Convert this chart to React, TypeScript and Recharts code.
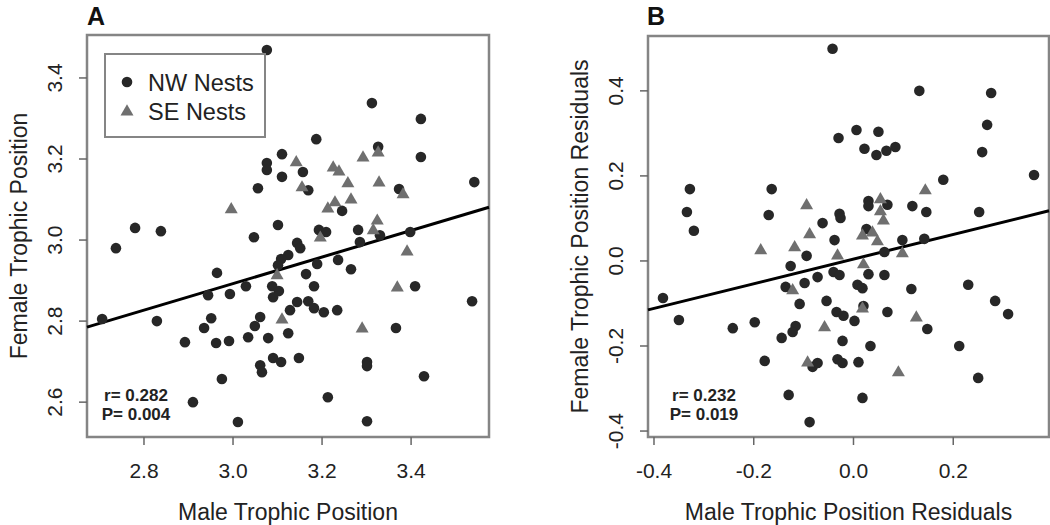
import React from 'react';
import { ScatterChart, Scatter, XAxis, YAxis, ReferenceArea, ReferenceLine, Legend } from 'recharts';

const FONT = '"Liberation Sans", Arial, Helvetica, sans-serif';

// ---------- Panel A data ----------
const nwMaleA = [3.076, 3.312, 3.422, 3.187, 3.110, 3.076, 3.076, 3.422, 3.157, 3.110, 3.326, 3.542, 3.373, 3.056, 3.169, 3.245, 2.780, 2.838, 3.101, 3.047, 3.193, 3.209, 3.281, 3.330, 3.398, 2.737, 3.285, 3.144, 3.151, 3.124, 3.108, 3.101, 3.236, 3.189, 2.964, 3.265, 3.164, 3.029, 3.088, 3.182, 3.409, 2.944, 2.993, 3.103, 3.090, 3.537, 3.128, 3.144, 3.169, 3.182, 3.204, 3.234, 2.706, 2.829, 2.951, 2.935, 3.061, 3.049, 3.124, 3.366, 2.892, 2.962, 2.991, 3.034, 3.079, 3.090, 3.108, 3.148, 3.061, 3.065, 3.301, 3.301, 2.975, 3.429, 2.910, 3.213, 3.011, 3.301];
const nwFemaleA = [3.469, 3.338, 3.299, 3.249, 3.212, 3.190, 3.173, 3.205, 3.168, 3.156, 3.230, 3.143, 3.126, 3.128, 3.123, 3.072, 3.030, 3.022, 3.037, 3.007, 3.025, 3.020, 3.025, 3.012, 3.020, 2.980, 2.995, 2.993, 2.980, 2.963, 2.953, 2.938, 2.951, 2.941, 2.919, 2.928, 2.916, 2.886, 2.886, 2.886, 2.886, 2.864, 2.867, 2.874, 2.859, 2.849, 2.827, 2.847, 2.849, 2.832, 2.822, 2.827, 2.805, 2.800, 2.807, 2.783, 2.810, 2.788, 2.770, 2.783, 2.748, 2.746, 2.751, 2.760, 2.758, 2.709, 2.699, 2.709, 2.691, 2.674, 2.699, 2.689, 2.657, 2.664, 2.600, 2.612, 2.551, 2.553];
const seMaleA = [2.996, 3.142, 3.225, 3.238, 3.292, 3.326, 3.258, 3.328, 3.382, 3.155, 3.229, 3.265, 3.213, 3.324, 3.315, 3.196, 3.391, 3.099, 3.110, 3.290, 3.369];
const seFemaleA = [3.077, 3.193, 3.180, 3.170, 3.205, 3.217, 3.141, 3.143, 3.114, 3.131, 3.094, 3.101, 3.079, 3.049, 3.025, 3.007, 2.973, 2.914, 2.805, 2.783, 2.884];
const xTicksA = [2.8, 3.0, 3.2, 3.4];
const yTicksA = [2.6, 2.8, 3.0, 3.2, 3.4];
const xDomainA = [2.672, 3.575];
const yDomainA = [2.514, 3.506];
const fitA = [2.785, 3.081]; // fitted female value at the x-domain edges

// ---------- Panel B data ----------
const nwMaleB = [-0.042, 0.132, 0.276, 0.268, 0.006, 0.050, -0.030, 0.022, 0.046, 0.066, 0.084, 0.258, 0.362, 0.180, -0.328, -0.164, -0.334, -0.170, -0.320, -0.062, 0.030, 0.030, 0.068, 0.118, 0.146, 0.252, -0.028, -0.026, 0.026, -0.038, 0.098, 0.142, -0.094, 0.062, -0.126, -0.040, -0.028, -0.072, 0.030, 0.062, -0.136, -0.098, 0.008, 0.018, 0.116, 0.230, -0.382, -0.108, -0.054, 0.284, 0.020, -0.034, -0.020, 0.068, 0.002, 0.310, -0.350, -0.198, -0.242, -0.116, -0.122, 0.148, -0.144, -0.022, 0.034, 0.212, -0.178, -0.082, -0.072, -0.032, -0.022, 0.010, 0.250, -0.130, -0.088, 0.018];
const nwFemaleB = [0.499, 0.400, 0.395, 0.320, 0.308, 0.304, 0.289, 0.264, 0.249, 0.259, 0.268, 0.256, 0.202, 0.191, 0.169, 0.169, 0.115, 0.108, 0.071, 0.089, 0.141, 0.129, 0.132, 0.129, 0.115, 0.115, 0.111, 0.101, 0.075, 0.049, 0.049, 0.052, 0.012, 0.021, -0.012, -0.026, -0.033, -0.038, -0.031, -0.033, -0.061, -0.052, -0.056, -0.064, -0.066, -0.056, -0.087, -0.101, -0.094, -0.094, -0.106, -0.120, -0.129, -0.120, -0.141, -0.125, -0.139, -0.144, -0.158, -0.153, -0.167, -0.160, -0.181, -0.188, -0.200, -0.200, -0.235, -0.249, -0.240, -0.231, -0.240, -0.238, -0.275, -0.315, -0.379, -0.322];
const seMaleB = [-0.094, -0.088, 0.144, 0.054, 0.054, 0.060, 0.018, 0.038, 0.048, -0.186, -0.118, -0.032, 0.098, 0.020, -0.122, 0.018, 0.126, -0.058, -0.092, 0.090];
const seFemaleB = [0.132, 0.064, 0.167, 0.146, 0.118, 0.096, 0.061, 0.068, 0.047, 0.026, 0.033, 0.014, 0.019, -0.007, -0.068, -0.111, -0.132, -0.155, -0.238, -0.261];
const xTicksB = [-0.4, -0.2, 0.0, 0.2];
const yTicksB = [-0.4, -0.2, 0.0, 0.2, 0.4];
const xDomainB = [-0.412, 0.392];
const yDomainB = [-0.414, 0.529];
const fitB = [-0.115, 0.118];

const zip = (xs: number[], ys: number[]) => xs.map((x, i) => ({ x, y: ys[i] }));

const DOT_COLOR = '#272727';
const TRI_COLOR = '#6f6f6f';
const BOX_COLOR = '#858585';
const TEXT_COLOR = '#222';

const Dot = (p: any) => <circle cx={p.cx} cy={p.cy} r={5.3} fill={DOT_COLOR} />;
const Tri = (p: any) => {
  const { cx, cy } = p;
  const s = 6.5;
  return <path d={`M${cx},${cy - 6.8} L${cx + s},${cy + 4.4} L${cx - s},${cy + 4.4} Z`} fill={TRI_COLOR} />;
};

const XTick = (p: any) => (
  <text x={p.x} y={p.y + 31} textAnchor="middle" fontSize={21} fill={TEXT_COLOR} fontFamily={FONT}>
    {Number(p.payload.value).toFixed(1)}
  </text>
);
const YTick = (p: any) => {
  const bx = p.x - 15;
  return (
    <text x={bx} y={p.y} transform={`rotate(-90, ${bx}, ${p.y})`} textAnchor="middle" fontSize={21} fill={TEXT_COLOR} fontFamily={FONT}>
      {Number(p.payload.value).toFixed(1)}
    </text>
  );
};

const LegendBox = () => (
  <svg width={162} height={85} style={{ display: 'block' }}>
    <rect x={1} y={1} width={160} height={83} fill="#fff" stroke={BOX_COLOR} strokeWidth={2} />
    <circle cx={23} cy={29} r={5.3} fill={DOT_COLOR} />
    <path d={`M23,${58 - 6.8} L${23 + 6.5},${58 + 4.4} L${23 - 6.5},${58 + 4.4} Z`} fill={TRI_COLOR} />
    <text x={44} y={38} fontSize={23.5} fill={TEXT_COLOR} fontFamily={FONT}>NW Nests</text>
    <text x={44} y={67} fontSize={23.5} fill={TEXT_COLOR} fontFamily={FONT}>SE Nests</text>
  </svg>
);

type PanelProps = {
  left: number;
  yAxisWidth: number;
  marginTop: number;
  marginRight: number;
  nw: { x: number; y: number }[];
  se: { x: number; y: number }[];
  xDomain: number[];
  yDomain: number[];
  xTicks: number[];
  yTicks: number[];
  fit: number[];
  xTitle: string;
  yTitle: string;
  legend?: boolean;
};

const Panel = (props: PanelProps) => {
  const { xDomain, yDomain } = props;
  return (
    <div style={{ position: 'absolute', left: props.left, top: 0 }}>
      <ScatterChart
        width={520}
        height={525}
        margin={{ top: props.marginTop, right: props.marginRight, bottom: 0, left: 0 }}
      >
        <XAxis
          type="number"
          dataKey="x"
          domain={xDomain}
          ticks={props.xTicks}
          interval={0}
          allowDataOverflow
          height={88}
          axisLine={false}
          tickSize={8}
          tickMargin={2}
          tickLine={{ stroke: '#666', strokeWidth: 1.5 }}
          tick={<XTick />}
          label={{
            content: (lp: any) => {
              const vb = lp.viewBox;
              return (
                <text x={vb.x + vb.width / 2} y={520} textAnchor="middle" fontSize={23} fill={TEXT_COLOR} fontFamily={FONT}>
                  {props.xTitle}
                </text>
              );
            },
          }}
        />
        <YAxis
          type="number"
          dataKey="y"
          domain={yDomain}
          ticks={props.yTicks}
          interval={0}
          allowDataOverflow
          width={props.yAxisWidth}
          axisLine={false}
          tickSize={8}
          tickMargin={2}
          tickLine={{ stroke: '#666', strokeWidth: 1.5 }}
          tick={<YTick />}
          label={{
            content: (lp: any) => {
              const vb = lp.viewBox;
              const bx = vb.x + vb.width - 60;
              const cy = vb.y + vb.height / 2;
              return (
                <text x={bx} y={cy} transform={`rotate(-90, ${bx}, ${cy})`} textAnchor="middle" fontSize={23} fill={TEXT_COLOR} fontFamily={FONT}>
                  {props.yTitle}
                </text>
              );
            },
          }}
        />
        <ReferenceArea
          x1={xDomain[0]}
          x2={xDomain[1]}
          y1={yDomain[0]}
          y2={yDomain[1]}
          fill="none"
          fillOpacity={0}
          stroke={BOX_COLOR}
          strokeWidth={2.5}
          ifOverflow="visible"
        />
        <Scatter name="NW Nests" data={props.nw} shape={Dot} isAnimationActive={false} />
        <Scatter name="SE Nests" data={props.se} shape={Tri} isAnimationActive={false} />
        <ReferenceLine
          segment={[
            { x: xDomain[0], y: props.fit[0] },
            { x: xDomain[1], y: props.fit[1] },
          ]}
          stroke="#000"
          strokeWidth={3}
          ifOverflow="visible"
        />
        {props.legend ? (
          <Legend
            layout="horizontal"
            verticalAlign="middle"
            align="center"
            content={() => <LegendBox />}
            wrapperStyle={{ left: 104, top: 53, width: 162, height: 85 }}
          />
        ) : null}
      </ScatterChart>
    </div>
  );
};

export default function App() {
  return (
    <div style={{ position: 'fixed', left: 0, top: 0, width: 1050, height: 525, background: '#fff', overflow: 'hidden' }}>
      <Panel
        left={0}
        yAxisWidth={87}
        marginTop={35}
        marginRight={31}
        nw={zip(nwMaleA, nwFemaleA)}
        se={zip(seMaleA, seFemaleA)}
        xDomain={xDomainA}
        yDomain={yDomainA}
        xTicks={xTicksA}
        yTicks={yTicksA}
        fit={fitA}
        xTitle="Male Trophic Position"
        yTitle="Female Trophic Position"
        legend
      />
      <Panel
        left={530}
        yAxisWidth={118}
        marginTop={36}
        marginRight={1}
        nw={zip(nwMaleB, nwFemaleB)}
        se={zip(seMaleB, seFemaleB)}
        xDomain={xDomainB}
        yDomain={yDomainB}
        xTicks={xTicksB}
        yTicks={yTicksB}
        fit={fitB}
        xTitle="Male Trophic Position Residuals"
        yTitle="Female Trophic Position Residuals"
      />
      <svg width={1050} height={525} style={{ position: 'absolute', left: 0, top: 0, pointerEvents: 'none' }}>
        <text x={87} y={25} fontSize={25} fontWeight="bold" fill="#111" fontFamily={FONT}>A</text>
        <text x={647} y={25} fontSize={25} fontWeight="bold" fill="#111" fontFamily={FONT}>B</text>
        <text x={136} y={401} textAnchor="middle" fontSize={17} fontWeight="bold" fill={TEXT_COLOR} fontFamily={FONT}>r= 0.282</text>
        <text x={136} y={420} textAnchor="middle" fontSize={17} fontWeight="bold" fill={TEXT_COLOR} fontFamily={FONT}>P= 0.004</text>
        <text x={704} y={401} textAnchor="middle" fontSize={17} fontWeight="bold" fill={TEXT_COLOR} fontFamily={FONT}>r= 0.232</text>
        <text x={704} y={420} textAnchor="middle" fontSize={17} fontWeight="bold" fill={TEXT_COLOR} fontFamily={FONT}>P= 0.019</text>
      </svg>
    </div>
  );
}
